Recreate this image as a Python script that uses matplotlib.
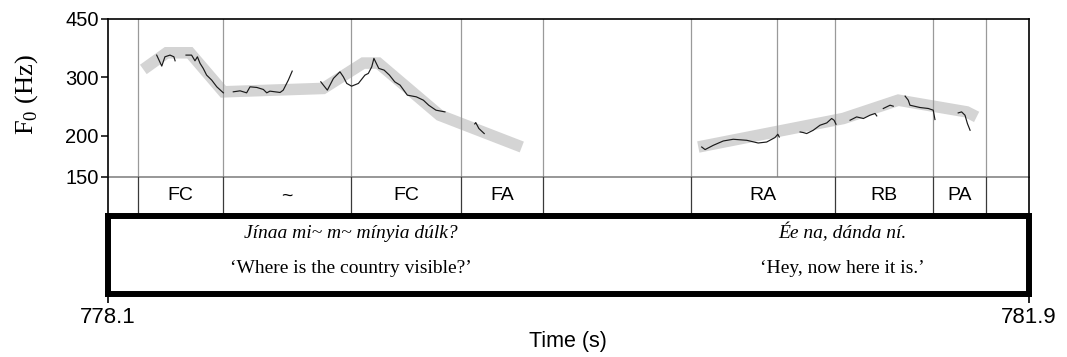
import matplotlib
matplotlib.use("Agg")
import matplotlib.pyplot as plt

plt.rcParams['font.family'] = ['Liberation Sans', 'DejaVu Sans']
plt.rcParams['mathtext.fontset'] = 'custom'
plt.rcParams['mathtext.rm'] = 'Liberation Serif'

# ---------------- data ----------------
x_min, x_max = 778.1, 781.9
y_min, y_max = 150, 450
y_ticks = [150, 200, 300, 450]
x_ticks = [778.1, 781.9]
x_tick_labels = ["778.1", "781.9"]

# tier boundaries (full height) and an extra pitch-only boundary
boundaries = [778.225, 778.576, 779.104, 779.557, 779.895, 780.506, 781.100, 781.504, 781.723]
pitch_only_lines = [780.861]

tier_starts = [778.225, 778.576, 779.104, 779.557, 780.506, 781.100, 781.504]
tier_ends = [778.576, 779.104, 779.557, 779.895, 781.100, 781.504, 781.723]
tier_labels = ["FC", "~", "FC", "FA", "RA", "RB", "PA"]

# stylised contours (grey)
style1_t = [778.247, 778.343, 778.439, 778.577, 778.989, 779.154, 779.216, 779.469, 779.808]
style1_f = [316.9, 355.8, 355.8, 271.2, 277.7, 331.2, 331.2, 230.5, 184.8]
style2_t = [780.536, 781.134, 781.361, 781.643, 781.684]
style2_f = [184.8, 225.3, 255.9, 235.9, 227.8]

# measured F0 track fragments (black)
segA_t = [778.302, 778.323, 778.336, 778.357, 778.373, 778.378]
segA_f = [350.1, 324.3, 346.0, 350.1, 346.0, 336.5]
segB_t = [778.423, 778.446, 778.460, 778.470, 778.481, 778.494, 778.508, 778.529, 778.550, 778.577]
segB_f = [350.1, 350.1, 336.5, 346.0, 330.5, 319.2, 304.6, 294.2, 280.8, 269.3]
segC_t = [778.618, 778.646, 778.673, 778.687, 778.715, 778.742, 778.756, 778.769, 778.811, 778.824, 778.845, 778.861]
segC_f = [271.2, 273.1, 269.3, 280.8, 279.6, 275.7, 269.3, 272.5, 270.0, 274.4, 294.2, 313.2]
segD_t = [778.979, 779.006, 779.031, 779.058, 779.072, 779.086, 779.106, 779.134, 779.161, 779.175,
          779.189, 779.198, 779.218, 779.240, 779.262, 779.284, 779.306, 779.336, 779.373, 779.402,
          779.424, 779.454, 779.491]
segD_f = [290.7, 274.4, 297.7, 311.7, 301.0, 287.5, 282.1, 287.5, 304.6, 308.2,
          322.7, 342.2, 319.2, 315.4, 304.6, 290.7, 284.1, 265.0, 261.9, 255.9,
          247.1, 238.7, 235.9]
segE_t = [779.614, 779.618, 779.631, 779.653]
segE_f = [217.0, 219.0, 210.1, 202.9]
segF_t = [780.550, 780.564, 780.598, 780.639, 780.680, 780.736, 780.783, 780.818, 780.852, 780.864, 780.870]
segF_f = [184.8, 181.5, 187.0, 192.7, 195.0, 193.6, 190.0, 191.3, 197.3, 201.9, 198.1]
segG_t = [780.956, 780.969, 780.983, 781.010, 781.038, 781.066, 781.086, 781.096, 781.104]
segG_f = [205.2, 204.3, 202.9, 207.6, 215.0, 218.5, 225.3, 222.6, 216.5]
segH_t = [781.162, 781.189, 781.217, 781.244, 781.265, 781.272]
segH_f = [222.6, 227.8, 225.3, 230.5, 233.3, 229.4]
segI_t = [781.299, 781.313, 781.327, 781.340]
segI_f = [241.5, 244.3, 247.1, 245.4]
segJ_t = [781.389, 781.402, 781.409, 781.450, 781.485, 781.505, 781.512]
segJ_f = [263.2, 255.9, 247.1, 243.2, 241.5, 238.7, 223.7]
segK_t = [781.608, 781.622, 781.636, 781.646, 781.657]
segK_f = [234.2, 235.9, 230.5, 217.5, 207.6]

sentence_t = [779.104, 781.129]
sentences = ["Jínaa mi~ m~ mínyia dúlk?", "Ée na, dánda ní."]
translations = ["\u2018Where is the country visible?\u2019", "\u2018Hey, now here it is.\u2019"]

# ---------------- figure ----------------
W, H = 1067, 357
fig = plt.figure(figsize=(W / 100, H / 100), dpi=100)

def fx(px):
    return px / W

def fy(py):
    return 1 - py / H

L, R = 107.7, 1029.0

# pitch panel
ax = fig.add_axes([fx(L), fy(177), fx(R - L), (177 - 19) / H])
ax.set_xlim(x_min, x_max)
ax.set_yscale('log')
ax.set_ylim(y_min, y_max)
ax.set_yticks(y_ticks)
ax.set_yticklabels([str(v) for v in y_ticks])
ax.yaxis.set_minor_locator(matplotlib.ticker.NullLocator())
ax.set_xticks([])
ax.tick_params(axis='y', direction='out', length=5, width=1.1, pad=1.5, labelsize=14.5, colors='black')
for s in ['top', 'left', 'right']:
    ax.spines[s].set_linewidth(1.2)
    ax.spines[s].set_color('black')
ax.spines['bottom'].set_color('#7a7a7a')
ax.spines['bottom'].set_linewidth(1.1)
ax.spines['bottom'].set_zorder(5)

for b in boundaries + pitch_only_lines:
    ax.axvline(b, color='#9a9a9a', lw=0.9, zorder=2)

for tt, ff in [(style1_t, style1_f), (style2_t, style2_f)]:
    ax.plot(tt, ff, color='#d4d4d4', lw=8.3, solid_capstyle='butt',
            solid_joinstyle='miter', zorder=1)

for tt, ff in [(segA_t, segA_f), (segB_t, segB_f), (segC_t, segC_f), (segD_t, segD_f),
               (segE_t, segE_f), (segF_t, segF_f), (segG_t, segG_f), (segH_t, segH_f),
               (segI_t, segI_f), (segJ_t, segJ_f), (segK_t, segK_f)]:
    ax.plot(tt, ff, color='#1a1a1a', lw=0.85, zorder=3)

# tier panel
tx = fig.add_axes([fx(L), fy(215), fx(R - L), (215 - 177) / H])
tx.set_xlim(x_min, x_max)
tx.set_ylim(0, 1)
tx.set_xticks([])
tx.set_yticks([])
tx.spines['top'].set_visible(False)
tx.patch.set_alpha(0)
for s in ['left', 'right']:
    tx.spines[s].set_linewidth(1.2)
for b in boundaries:
    tx.axvline(b, color='#3a3a3a', lw=0.9)
for s0, s1, lab in zip(tier_starts, tier_ends, tier_labels):
    tx.text((s0 + s1) / 2, 0.5, lab, ha='center', va='center', fontsize=14)

# text box
bx = fig.add_axes([fx(L), fy(293.5), fx(R - L), (293.5 - 216) / H])
bx.set_xlim(x_min, x_max)
bx.set_ylim(0, 1)
bx.set_yticks([])
bx.set_xticks(x_ticks)
bx.set_xticklabels(x_tick_labels)
for s in bx.spines.values():
    s.set_linewidth(4.3)
bx.tick_params(axis='x', direction='out', length=6.5, width=1.2, pad=3.5, labelsize=16)
bx.patch.set_alpha(0)

for t, sen, tr in zip(sentence_t, sentences, translations):
    fig.text(fx(L) + (t - x_min) / (x_max - x_min) * fx(R - L), fy(238.5), sen,
             ha='center', va='baseline', fontsize=14, style='italic',
             family=['Liberation Serif', 'DejaVu Serif'])
    fig.text(fx(L) + (t - x_min) / (x_max - x_min) * fx(R - L), fy(273), tr,
             ha='center', va='baseline', fontsize=14,
             family=['Liberation Serif', 'DejaVu Serif'])

fig.text(fx(568), fy(341), "Time (s)", ha='center', va='center', fontsize=15.5)
fig.text(fx(27), fy(95), r"F$_\mathrm{0}$ (Hz)", ha='center', va='center', rotation=90,
         fontsize=19, family=['Liberation Serif', 'DejaVu Serif'])

fig.savefig("out.png", dpi=100)
